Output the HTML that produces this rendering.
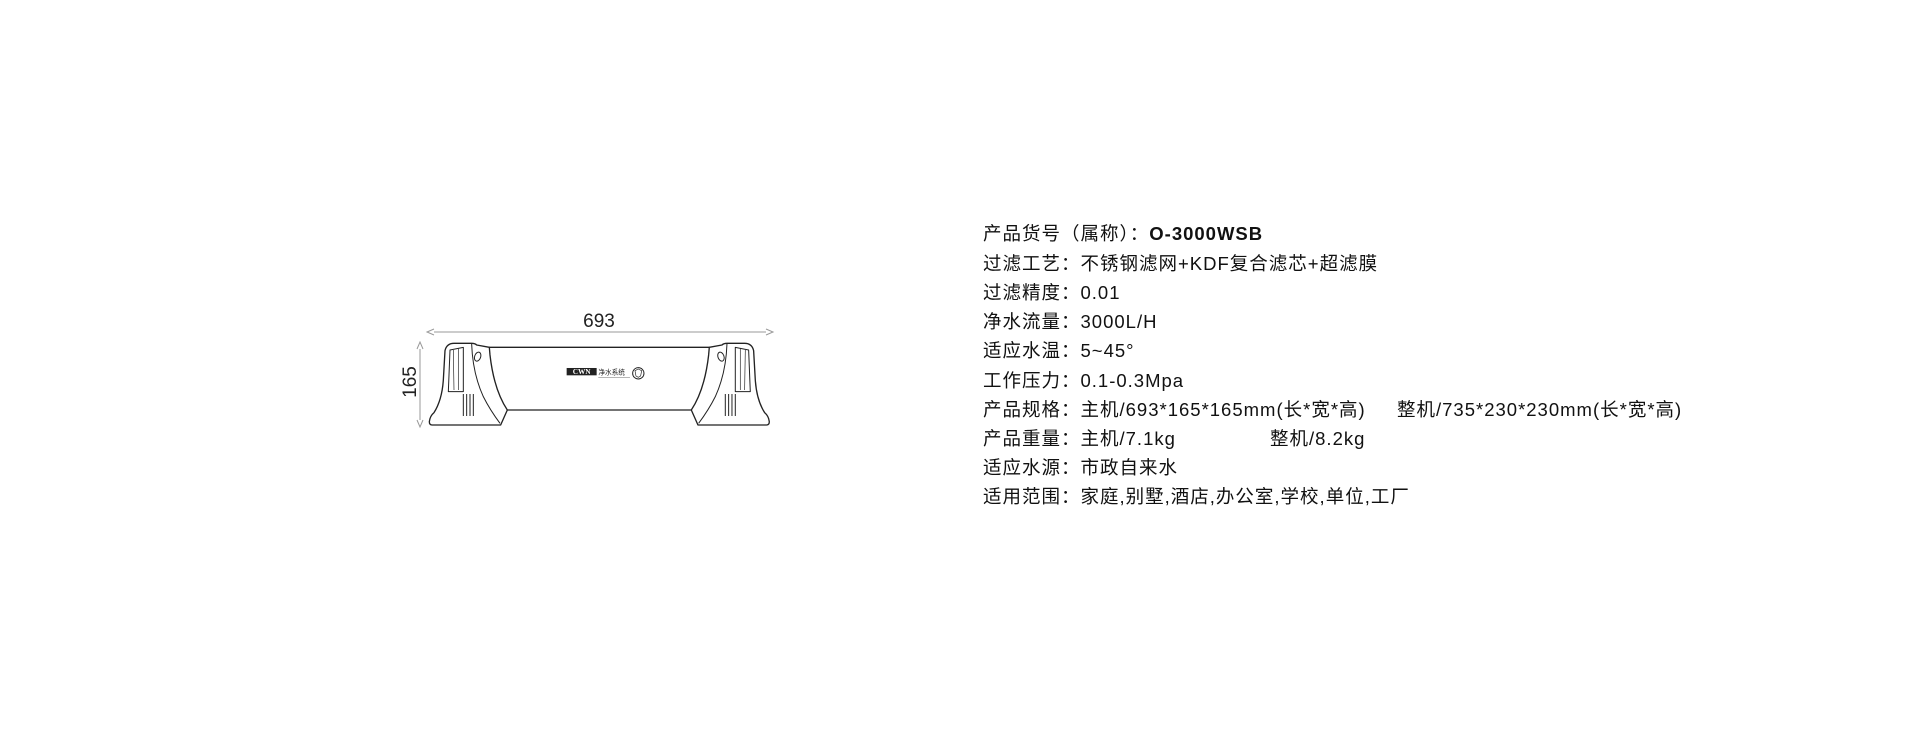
<!DOCTYPE html>
<html><head><meta charset="utf-8"><style>
html,body{margin:0;padding:0;background:#fff;}
body{width:1920px;height:742px;position:relative;overflow:hidden;font-family:"Liberation Sans","Noto Sans CJK SC",sans-serif;color:#111;}
.t{position:absolute;left:983px;font-size:18.5px;letter-spacing:1px;line-height:20px;white-space:pre;}
.a{position:absolute;top:0;}
</style></head><body>
<svg width="1920" height="742" style="position:absolute;left:0;top:0">
 <g stroke="#999" stroke-width="1" fill="none">
  <line x1="427" y1="332" x2="773" y2="332"/>
  <polyline points="434,329 427,332 434,335" fill="#fff"/>
  <polyline points="766,329 773,332 766,335" fill="#fff"/>
  <line x1="420" y1="342" x2="420" y2="427"/>
  <polyline points="417,349 420,342 423,349" fill="#fff"/>
  <polyline points="417,420 420,427 423,420" fill="#fff"/>
 </g>
 <text x="599" y="327" font-family="Liberation Sans" font-size="19" text-anchor="middle" fill="#222">693</text>
 <text transform="translate(416,382) rotate(-90)" font-family="Liberation Sans" font-size="19" text-anchor="middle" fill="#222">165</text>
 <g transform="translate(400,290) scale(0.3333)" stroke="#222" stroke-width="4" fill="#fff" stroke-linejoin="round">
  <rect x="260" y="172" width="676" height="188" stroke="none"/>
  <line x1="266" y1="172" x2="930" y2="172"/>
  <line x1="318" y1="360" x2="878" y2="360"/>
  <g id="foot">
   <path d="M88,395 Q90,378 102,368 Q126,330 130,270 L135,182 Q140,160 162,160 L215,160 Q225,160 230,165 L268,172 L270,195 Q282,300 322,360 L302,405 L96,405 Q88,405 88,395 Z"/>
   <path d="M215,162 Q218,250 250,320 Q270,360 300,400" fill="none" stroke-width="3"/>
   <path d="M150,180 L190,172 L190,305 L145,305 Z" fill="none" stroke-width="3"/>
   <path d="M160,180 L162,300 M175,176 L175,300" fill="none" stroke-width="2"/>
   <g stroke-width="3"><line x1="190" y1="312" x2="190" y2="378"/><line x1="200" y1="312" x2="200" y2="378"/><line x1="210" y1="312" x2="210" y2="378"/><line x1="220" y1="312" x2="220" y2="378"/></g>
   <ellipse cx="233" cy="200" rx="9" ry="14" transform="rotate(20 233 200)" fill="none" stroke-width="3"/>
  </g>
  <use href="#foot" transform="translate(1196,0) scale(-1,1)"/>
  <rect x="500" y="234" width="90" height="22" fill="#222" stroke="none"/>
  <text x="545" y="252" font-family="Liberation Serif" font-weight="bold" font-size="22" fill="#fff" stroke="none" text-anchor="middle">CWN</text>
  <text x="595" y="254" font-family="Noto Sans CJK SC" font-size="20" fill="#222" stroke="none">净水系统</text>
  <line x1="595" y1="262" x2="690" y2="262" stroke-width="1"/>
  <circle cx="715" cy="250" r="17" fill="none" stroke-width="3"/>
  <path d="M705,242 L715,237 L725,242 L722,258 L715,262 L708,258 Z" fill="none" stroke-width="2"/>
 </g>
</svg>
<div class="t" style="top:224px">产品货号（属称）：<b>O-3000WSB</b></div>
<div class="t" style="top:254px">过滤工艺：不锈钢滤网+KDF复合滤芯+超滤膜</div>
<div class="t" style="top:283px">过滤精度：0.01</div>
<div class="t" style="top:312px">净水流量：3000L/H</div>
<div class="t" style="top:341px">适应水温：5~45°</div>
<div class="t" style="top:371px">工作压力：0.1-0.3Mpa</div>
<div class="t" style="top:400px">产品规格：主机/693*165*165mm(长*宽*高)<span class="a" style="left:414px">整机/735*230*230mm(长*宽*高)</span></div>
<div class="t" style="top:429px">产品重量：主机/7.1kg<span class="a" style="left:287px">整机/8.2kg</span></div>
<div class="t" style="top:458px">适应水源：市政自来水</div>
<div class="t" style="top:487px">适用范围：家庭,别墅,酒店,办公室,学校,单位,工厂</div>
</body></html>
